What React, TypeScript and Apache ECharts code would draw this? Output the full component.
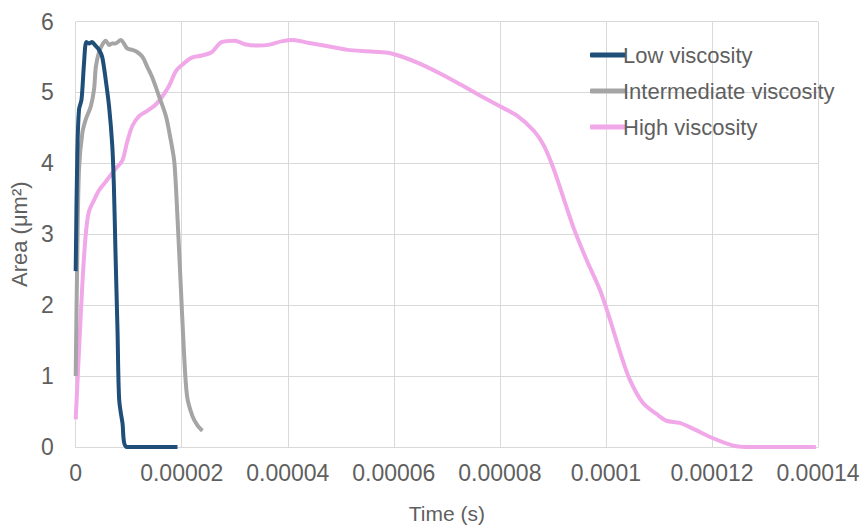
import React, { useEffect, useRef } from "react";
import * as echarts from "echarts";

const seriesNames = ["Low viscosity", "Intermediate viscosity", "High viscosity"];
const seriesColors = ["#1F4E79", "#A5A5A5", "#F0A8E8"];

const lowT = [0, 3.1e-7, 6.3e-7, 1.1e-6, 1.57e-6, 2.0e-6, 2.5e-6, 3.1e-6, 3.6e-6, 4.4e-6, 5.0e-6, 5.66e-6, 6.3e-6, 6.9e-6, 7.2e-6, 7.5e-6, 7.9e-6, 8.2e-6, 8.8e-6, 9.7e-6, 1.92e-5];
const lowV = [2.48, 4.16, 4.76, 4.9, 5.41, 5.71, 5.69, 5.71, 5.67, 5.6, 5.5, 5.18, 4.8, 4.25, 3.69, 2.76, 1.6, 0.67, 0.35, 0, 0];

const midT = [0, 3.1e-7, 6.3e-7, 1.26e-6, 1.9e-6, 2.83e-6, 3.46e-6, 3.8e-6, 4.4e-6, 5.0e-6, 5.66e-6, 6.3e-6, 6.9e-6, 7.5e-6, 8.5e-6, 9.1e-6, 9.7e-6, 1.07e-5, 1.16e-5, 1.26e-5, 1.35e-5, 1.45e-5, 1.57e-5, 1.7e-5, 1.79e-5, 1.86e-5, 1.92e-5, 1.98e-5, 2.04e-5, 2.1e-5, 2.2e-5, 2.3e-5, 2.39e-5];
const midV = [1.0, 2.76, 3.92, 4.43, 4.62, 4.8, 5.04, 5.36, 5.57, 5.67, 5.73, 5.67, 5.69, 5.69, 5.74, 5.69, 5.62, 5.6, 5.57, 5.5, 5.36, 5.2, 4.95, 4.67, 4.34, 4.02, 3.23, 2.3, 1.37, 0.72, 0.44, 0.3, 0.23];

const highT = [0, 6.3e-7, 1.26e-6, 1.9e-6, 2.5e-6, 3.46e-6, 4.4e-6, 5.66e-6, 7.5e-6, 8.8e-6, 9.7e-6, 1.07e-5, 1.2e-5, 1.35e-5, 1.51e-5, 1.64e-5, 1.76e-5, 1.89e-5, 2.01e-5, 2.19e-5, 2.38e-5, 2.57e-5, 2.75e-5, 3.0e-5, 3.19e-5, 3.44e-5, 3.63e-5, 3.88e-5, 4.1e-5, 4.38e-5, 4.76e-5, 5.13e-5, 5.51e-5, 5.89e-5, 6.13e-5, 6.51e-5, 6.89e-5, 7.26e-5, 7.64e-5, 8.01e-5, 8.33e-5, 8.64e-5, 8.83e-5, 9.01e-5, 9.2e-5, 9.39e-5, 9.64e-5, 9.89e-5, 1.008e-4, 1.027e-4, 1.045e-4, 1.07e-4, 1.1e-4, 1.114e-4, 1.139e-4, 1.164e-4, 1.2e-4, 1.24e-4, 1.27e-4, 1.396e-4];
const highV = [0.39, 1.37, 2.3, 3.0, 3.32, 3.48, 3.62, 3.74, 3.92, 4.04, 4.3, 4.53, 4.67, 4.74, 4.83, 4.95, 5.09, 5.3, 5.39, 5.49, 5.52, 5.57, 5.71, 5.73, 5.68, 5.66, 5.67, 5.72, 5.74, 5.7, 5.65, 5.6, 5.58, 5.56, 5.51, 5.4, 5.26, 5.11, 4.95, 4.8, 4.67, 4.46, 4.25, 3.93, 3.51, 3.09, 2.63, 2.21, 1.79, 1.33, 0.95, 0.62, 0.44, 0.37, 0.34, 0.26, 0.13, 0.02, 0, 0];

const xTicks = [0, 0.00002, 0.00004, 0.00006, 0.00008, 0.0001, 0.00012, 0.00014];
const yTicks = [0, 1, 2, 3, 4, 5, 6];

const zip = (t: number[], v: number[]) => t.map((x, i) => [x, v[i]]);

export default function App() {
  const ref = useRef<HTMLDivElement>(null);
  useEffect(() => {
    document.body.style.margin = "0";
    const chart = echarts.init(ref.current!, undefined, { renderer: "svg" });
    const font = "'Liberation Sans', Arial, sans-serif";
    const labelColor = "#5F5F5F";
    const gridColor = "#D9D9D9";
    const data = [zip(lowT, lowV), zip(midT, midV), zip(highT, highV)];
    chart.setOption({
      animation: false,
      grid: { left: 73, right: 45, top: 21.5, bottom: 77 },
      legend: {
        orient: "vertical",
        left: 585,
        top: 39,
        icon: "roundRect",
        itemWidth: 36,
        itemHeight: 5,
        itemGap: 14,
        data: seriesNames,
        textStyle: { fontFamily: font, fontSize: 22, color: labelColor, padding: [0, 0, 0, -8] },
      },
      xAxis: {
        type: "value",
        min: xTicks[0],
        max: xTicks[xTicks.length - 1],
        interval: xTicks[1] - xTicks[0],
        name: "Time (s)",
        nameLocation: "middle",
        nameGap: 56,
        nameTextStyle: { fontFamily: font, fontSize: 21, color: labelColor },
        axisLine: { show: true, lineStyle: { color: gridColor, width: 1 } },
        axisTick: { show: false },
        splitLine: { show: true, lineStyle: { color: gridColor, width: 1 } },
        axisLabel: {
          margin: 14,
          fontFamily: font,
          fontSize: 23,
          color: labelColor,
          formatter: (v: number) => String(parseFloat(v.toPrecision(6))),
        },
      },
      yAxis: {
        type: "value",
        min: yTicks[0],
        max: yTicks[yTicks.length - 1],
        interval: 1,
        name: "Area (μm²)",
        nameLocation: "middle",
        nameGap: 44,
        nameTextStyle: { fontFamily: font, fontSize: 22, color: labelColor },
        axisLine: { show: false },
        axisTick: { show: false },
        splitLine: { show: true, lineStyle: { color: gridColor, width: 1 } },
        axisLabel: { margin: 22, fontFamily: font, fontSize: 23, color: labelColor },
      },
      series: data.map((d, i) => ({
        name: seriesNames[i],
        type: "line",
        data: d,
        showSymbol: false,
        symbol: "none",
        smooth: 0.3,
        lineStyle: { color: seriesColors[i], width: 4 },
        itemStyle: { color: seriesColors[i] },
        z: i === 2 ? 1 : 3 - i,
      })),
    });
    return () => chart.dispose();
  }, []);
  return <div ref={ref} style={{ width: 863, height: 529 }} />;
}
